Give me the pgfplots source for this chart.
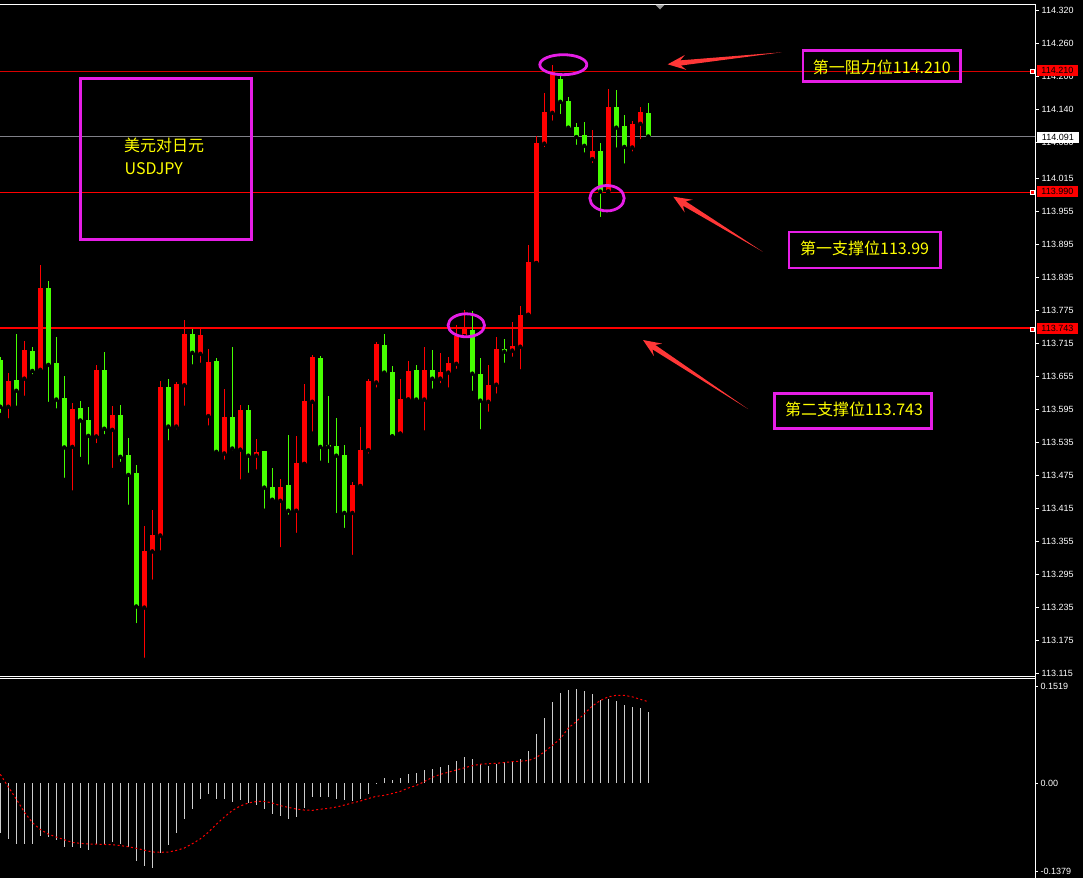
\documentclass[border=0pt]{standalone}
\usepackage{fontspec}
\setmainfont{Liberation Sans}
\newfontfamily\cjk{Noto Sans CJK SC}
\usepackage{pgfplots}
\usepackage{pgfplotstable}
\pgfplotsset{compat=1.18}
\usetikzlibrary{calc}
\definecolor{cred}{RGB}{255,0,0}
\definecolor{cgreen}{RGB}{70,255,0}
\definecolor{mag}{RGB}{230,30,230}
\definecolor{ayel}{RGB}{255,255,0}
\definecolor{arrowred}{RGB}{255,55,55}
\definecolor{histc}{RGB}{205,205,205}
\definecolor{pline}{RGB}{128,128,136}

% tapered arrow: #1 tail, #2 tip (pixel coordinates)
\newcommand\tarrow[2]{%
  \fill[arrowred] (#2) -- ($(#2)!18pt!(#1)!7.5pt!90:(#1)$)
    -- ($(#2)!13pt!(#1)!2.6pt!90:(#1)$) -- (#1)
    -- ($(#2)!13pt!(#1)!2.6pt!-90:(#1)$)
    -- ($(#2)!18pt!(#1)!7.5pt!-90:(#1)$) -- cycle;}

% bullish candles (drawn red)
\pgfplotstableread{
i O H L C
1 113.600 113.661 113.575 113.647
3 113.651 113.719 113.616 113.703
5 113.667 113.858 113.662 113.816
9 113.527 113.606 113.444 113.596
12 113.546 113.676 113.530 113.667
14 113.558 113.601 113.485 113.585
18 113.235 113.383 113.140 113.338
19 113.337 113.412 113.282 113.367
20 113.366 113.647 113.335 113.636
22 113.564 113.645 113.555 113.641
23 113.639 113.758 113.598 113.732
25 113.696 113.745 113.676 113.730
26 113.583 113.705 113.562 113.681
28 113.515 113.632 113.500 113.581
30 113.522 113.603 113.464 113.594
32 113.511 113.541 113.482 113.518
35 113.429 113.469 113.341 113.454
37 113.411 113.547 113.367 113.498
38 113.496 113.641 113.496 113.610
39 113.609 113.694 113.551 113.690
44 113.407 113.463 113.327 113.458
45 113.456 113.563 113.453 113.521
46 113.521 113.650 113.511 113.647
47 113.644 113.718 113.631 113.714
50 113.551 113.650 113.551 113.614
51 113.613 113.683 113.613 113.665
53 113.613 113.709 113.553 113.667
55 113.651 113.698 113.639 113.663
56 113.662 113.690 113.631 113.679
57 113.678 113.748 113.665 113.728
58 113.728 113.776 113.728 113.742
61 113.609 113.676 113.587 113.639
62 113.640 113.727 113.620 113.705
64 113.702 113.754 113.687 113.710
65 113.709 113.783 113.664 113.767
66 113.767 113.894 113.767 113.863
67 113.861 114.092 113.861 114.079
68 114.078 114.170 114.068 114.136
69 114.134 114.221 114.116 114.208
74 114.050 114.103 114.039 114.065
76 113.991 114.177 113.991 114.145
79 114.071 114.119 114.060 114.114
80 114.114 114.145 114.082 114.136
}\bull

% bearish candles (drawn green)
\pgfplotstableread{
i O H L C
0 113.685 113.690 113.585 113.600
2 113.649 113.733 113.598 113.629
4 113.701 113.709 113.655 113.665
6 113.816 113.828 113.605 113.676
7 113.679 113.726 113.593 113.613
8 113.616 113.656 113.467 113.526
10 113.598 113.610 113.505 113.575
11 113.576 113.599 113.491 113.547
13 113.667 113.699 113.546 113.560
15 113.585 113.603 113.496 113.509
16 113.512 113.543 113.418 113.476
17 113.480 113.494 113.203 113.237
21 113.636 113.650 113.535 113.564
24 113.732 113.741 113.673 113.698
27 113.683 113.689 113.513 113.518
29 113.581 113.709 113.516 113.524
31 113.594 113.603 113.476 113.511
33 113.519 113.520 113.411 113.453
34 113.454 113.489 113.429 113.431
36 113.458 113.549 113.400 113.411
40 113.689 113.692 113.498 113.527
41 113.530 113.619 113.494 113.527
42 113.529 113.580 113.403 113.511
43 113.512 113.530 113.376 113.407
48 113.712 113.732 113.660 113.662
49 113.663 113.674 113.546 113.546
52 113.667 113.676 113.609 113.613
54 113.667 113.703 113.629 113.651
59 113.739 113.774 113.625 113.660
60 113.659 113.689 113.555 113.611
63 113.705 113.723 113.676 113.700
70 114.195 114.206 114.128 114.154
71 114.156 114.163 114.103 114.107
72 114.108 114.116 114.072 114.090
73 114.094 114.117 114.058 114.074
75 114.065 114.079 113.941 113.991
77 114.145 114.175 114.067 114.107
78 114.110 114.130 114.038 114.072
81 114.134 114.152 114.086 114.091
}\bear

% MACD histogram (h) and signal (s)
\pgfplotstableread{
i h s
0 -0.0778 0.0136
1 -0.0872 -0.0061
2 -0.0951 -0.0251
3 -0.0951 -0.0454
4 -0.0951 -0.0619
5 -0.0825 -0.0728
6 -0.0841 -0.0799
7 -0.0893 -0.0846
8 -0.0998 -0.0888
9 -0.0998 -0.0930
10 -0.1013 -0.0944
11 -0.1045 -0.0954
12 -0.0960 -0.0958
13 -0.0951 -0.0962
14 -0.0919 -0.0966
15 -0.0955 -0.0979
16 -0.0998 -0.0998
17 -0.1217 -0.1021
18 -0.1295 -0.1051
19 -0.1326 -0.1079
20 -0.1092 -0.1085
21 -0.0966 -0.1081
22 -0.0778 -0.1055
23 -0.0559 -0.1018
24 -0.0402 -0.0951
25 -0.0246 -0.0874
26 -0.0168 -0.0772
27 -0.0246 -0.0647
28 -0.0246 -0.0532
29 -0.0293 -0.0431
30 -0.0262 -0.0359
31 -0.0309 -0.0313
32 -0.0340 -0.0290
33 -0.0402 -0.0287
34 -0.0481 -0.0313
35 -0.0512 -0.0354
36 -0.0559 -0.0381
37 -0.0528 -0.0407
38 -0.0387 -0.0423
39 -0.0215 -0.0428
40 -0.0215 -0.0410
41 -0.0215 -0.0396
42 -0.0250 -0.0376
43 -0.0266 -0.0345
44 -0.0282 -0.0313
45 -0.0250 -0.0282
46 -0.0168 -0.0243
47 -0.0020 -0.0208
48 0.0078 -0.0193
49 0.0047 -0.0164
50 0.0078 -0.0130
51 0.0141 -0.0078
52 0.0157 -0.0039
53 0.0204 0.0023
54 0.0219 0.0089
55 0.0251 0.0136
56 0.0282 0.0169
57 0.0345 0.0204
58 0.0407 0.0238
59 0.0376 0.0271
60 0.0298 0.0294
61 0.0266 0.0302
62 0.0298 0.0309
63 0.0324 0.0321
64 0.0329 0.0335
65 0.0376 0.0343
66 0.0501 0.0352
67 0.0767 0.0399
68 0.1018 0.0487
69 0.1268 0.0587
70 0.1409 0.0694
71 0.1456 0.0861
72 0.1472 0.0963
73 0.1441 0.1085
74 0.1394 0.1206
75 0.1300 0.1292
76 0.1315 0.1350
77 0.1284 0.1373
78 0.1221 0.1373
79 0.1190 0.1350
80 0.1175 0.1311
81 0.1112 0.1273
}\macd

\begin{document}
\begin{tikzpicture}
\fill[black] (0,0) rectangle (1083pt,-878pt);

\pgfplotsset{panel/.style={
  scale only axis, width=1035pt,
  xmin=-0.0375, xmax=129.34,
  axis line style={draw=none},
  xtick=\empty,
  ytick pos=right, yticklabel pos=right,
  tick align=outside,
  tick style={white, line width=0.8pt},
  yticklabel style={font=\fontsize{9}{10}\selectfont, text=white, inner sep=2.5pt},
}}

\begin{axis}[panel, at={(0pt,-4.3pt)}, anchor=north west,
  height=671.7pt,
  ymin=113.1107, ymax=114.3312,
  major tick length=4pt,
  ytick={113.115,113.175,113.235,113.295,113.355,113.415,113.475,113.535,113.595,113.655,113.715,113.775,113.835,113.895,113.955,114.015,114.080,114.140,114.200,114.260,114.320},
  yticklabels={113.115,113.175,113.235,113.295,113.355,113.415,113.475,113.535,113.595,113.655,113.715,113.775,113.835,113.895,113.955,114.015,114.080,114.140,114.200,114.260,114.320},
]
% levels
\addplot[draw=red!85!black, line width=0.8pt] coordinates {(-0.04,114.210) (128.96,114.210)};
\addplot[draw=cred, line width=1.1pt] coordinates {(-0.04,113.990) (128.96,113.990)};
\addplot[draw=cred, line width=1.1pt] coordinates {(-0.04,113.743) (128.96,113.743)};
\addplot[draw=pline, line width=1pt] coordinates {(-0.04,114.091) (129.34,114.091)};
% wicks
\addplot[only marks, mark=none, error bars/.cd, y dir=plus, y explicit, error mark=none,
  error bar style={line width=1pt, draw=cred, solid}]
  table[x=i, y=L, y error plus expr=\thisrow{H}-\thisrow{L}] {\bull};
\addplot[only marks, mark=none, error bars/.cd, y dir=plus, y explicit, error mark=none,
  error bar style={line width=1pt, draw=cgreen, solid}]
  table[x=i, y=L, y error plus expr=\thisrow{H}-\thisrow{L}] {\bear};
% bodies, one stroke from the lower end of the body upwards
\addplot[only marks, mark=none, error bars/.cd, y dir=plus, y explicit, error mark=none,
  error bar style={line width=5pt, draw=cred, solid}]
  table[x=i, y expr={min(\thisrow{O},\thisrow{C})}, y error plus expr={max(abs(\thisrow{C}-\thisrow{O}),0.0018)}] {\bull};
\addplot[only marks, mark=none, error bars/.cd, y dir=plus, y explicit, error mark=none,
  error bar style={line width=5pt, draw=cgreen, solid}]
  table[x=i, y expr={min(\thisrow{O},\thisrow{C})}, y error plus expr={max(abs(\thisrow{C}-\thisrow{O}),0.0018)}] {\bear};
\end{axis}

\begin{axis}[panel, at={(0pt,-678.3pt)}, anchor=north west,
  height=198.4pt,
  ymin=-0.1467, ymax=0.1640,
  major tick length=3pt,
  ytick={-0.1379,0,0.1519},
  yticklabels={-0.1379,0.00,0.1519},
]
\addplot[ycomb, draw=histc, line width=1pt] table[x=i, y=h] {\macd};
\addplot[draw=cred, line width=1pt, dash pattern=on 2pt off 2.5pt] table[x=i, y=s] {\macd};
\end{axis}

\begin{scope}[x=1pt, y=-1pt]
% frame
\draw[white, line width=1pt] (0,4.3) -- (1035,4.3) -- (1035,878);
\draw[white, line width=1pt] (0,676) -- (1035,676);
\draw[white, line width=1pt] (0,678.3) -- (1035,678.3);
\fill[gray!80] (655.5,4.8) -- (664.5,4.8) -- (660,9.5) -- cycle;
% price labels
\foreach \yy/\tt in {70.5/114.210, 191.8/113.990, 328.3/113.743}{
  \node[fill=cred, text=black, font=\fontsize{9}{10}\selectfont, minimum width=41pt,
    minimum height=11pt, inner sep=0pt, anchor=west] at (1036.7,\yy) {\tt};
  \draw[white, fill=cred, line width=0.6pt] (1030,\yy-1.5) rectangle (1034,\yy+2.5);
}
\node[fill=white, text=black, font=\fontsize{9}{10}\selectfont, minimum width=42pt,
  minimum height=11pt, inner sep=0pt, anchor=west] at (1036.7,137.5) {114.091};
% annotations
\draw[mag, line width=2.8pt] (80.8,78.7) rectangle (251.3,239.8);
\draw[mag, line width=2.8pt] (803,50.7) rectangle (960.3,81.3);
\draw[mag, line width=2.8pt] (789,232) rectangle (940.3,268);
\draw[mag, line width=2.8pt] (774.3,393.3) rectangle (931.7,428.7);
\draw[mag, line width=2.8pt] (563.3,64.7) ellipse [x radius=23.5pt, y radius=10pt];
\draw[mag, line width=2.8pt] (607,198.2) ellipse [x radius=17.2pt, y radius=12.7pt];
\draw[mag, line width=2.8pt] (466.3,325.3) ellipse [x radius=18.2pt, y radius=11.5pt];
\begin{scope}[every node/.style={anchor=base west, text=ayel, inner sep=0pt,
    font=\cjk\fontsize{16}{18}\selectfont}]
\node at (124,151.5) {美元对日元};
\node at (124.5,174) {USDJPY};
\node at (812.7,73.3) {第一阻力位114.210};
\node at (800,254) {第一支撑位113.99};
\node at (785,415) {第二支撑位113.743};
\end{scope}
\tarrow{781.7,52.3}{667.7,64.3}
\tarrow{762.7,251.7}{673.3,196.7}
\tarrow{748,409}{643,340}
\end{scope}

\pgfresetboundingbox
\useasboundingbox (0,0) rectangle (1083pt,-878pt);
\end{tikzpicture}
\end{document}
